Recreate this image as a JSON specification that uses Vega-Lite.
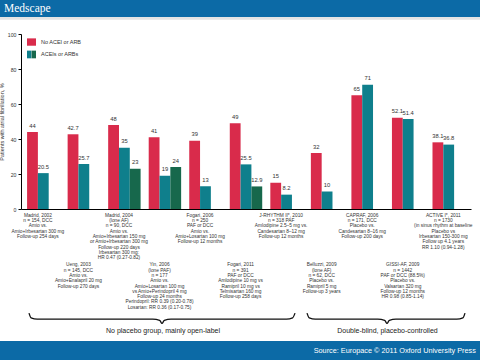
{
  "$schema": "https://vega.github.io/schema/vega-lite/v6.json",
  "width": 450,
  "height": 175,
  "autosize": "none",
  "padding": {"left": 21, "top": 34, "right": 9, "bottom": 151},
  "background": "white",
  "config": {"view": {"stroke": null}, "font": "Liberation Sans"},
  "datasets": {
    "bars": [
      {"study": "Madrid 2002", "series": "No ACEI or ARB", "value": 44},
      {"study": "Madrid 2002", "series": "ACEI/ARB arm 1", "value": 20.5},
      {"study": "Ueng 2003", "series": "No ACEI or ARB", "value": 42.7},
      {"study": "Ueng 2003", "series": "ACEI/ARB arm 1", "value": 25.7},
      {"study": "Madrid 2004", "series": "No ACEI or ARB", "value": 48},
      {"study": "Madrid 2004", "series": "ACEI/ARB arm 1", "value": 35},
      {"study": "Madrid 2004", "series": "ACEI/ARB arm 2", "value": 23},
      {"study": "Yin 2006", "series": "No ACEI or ARB", "value": 41},
      {"study": "Yin 2006", "series": "ACEI/ARB arm 1", "value": 19},
      {"study": "Yin 2006", "series": "ACEI/ARB arm 2", "value": 24},
      {"study": "Fogari 2006", "series": "No ACEI or ARB", "value": 39},
      {"study": "Fogari 2006", "series": "ACEI/ARB arm 1", "value": 13},
      {"study": "Fogari 2011", "series": "No ACEI or ARB", "value": 49},
      {"study": "Fogari 2011", "series": "ACEI/ARB arm 1", "value": 25.5},
      {"study": "Fogari 2011", "series": "ACEI/ARB arm 2", "value": 12.9},
      {"study": "J-RHYTHM II 2010", "series": "No ACEI or ARB", "value": 15},
      {"study": "J-RHYTHM II 2010", "series": "ACEI/ARB arm 1", "value": 8.2},
      {"study": "Belluzzi 2009", "series": "No ACEI or ARB", "value": 32},
      {"study": "Belluzzi 2009", "series": "ACEI/ARB arm 1", "value": 10},
      {"study": "CAPRAF 2006", "series": "No ACEI or ARB", "value": 65},
      {"study": "CAPRAF 2006", "series": "ACEI/ARB arm 1", "value": 71},
      {"study": "GISSI-AF 2009", "series": "No ACEI or ARB", "value": 52.1},
      {"study": "GISSI-AF 2009", "series": "ACEI/ARB arm 1", "value": 51.4},
      {"study": "ACTIVE I 2011", "series": "No ACEI or ARB", "value": 38.1},
      {"study": "ACTIVE I 2011", "series": "ACEI/ARB arm 1", "value": 36.8}
    ],
    "notes": [
      {"study": "Madrid 2002", "row": "upper", "lines": ["Madrid, 2002", "n = 154, DCC", "Amio vs.", "Amio+Irbesartan 300 mg", "Follow-up 254 days"]},
      {"study": "Madrid 2004", "row": "upper", "lines": ["Madrid, 2004", "(lone AF)", "n = 90, DCC", "Amio vs.", "Amio+Irbesartan 150 mg", "or Amio+Irbesartan 300 mg", "Follow-up 220 days", "Irbesartan 300 mg:", "HR 0.47 (0.27-0.82)"]},
      {"study": "Fogari 2006", "row": "upper", "lines": ["Fogari, 2006", "n = 250", "PAF or DCC", "Amio vs.", "Amio+Losartan 100 mg", "Follow-up 12 months"]},
      {"study": "J-RHYTHM II 2010", "row": "upper", "lines": ["J-RHYTHM II*, 2010", "n = 318 PAF", "Amlodipine 2.5–5 mg vs.", "Candesartan 8–12 mg", "Follow-up 12 months"]},
      {"study": "CAPRAF 2006", "row": "upper", "lines": ["CAPRAF, 2006", "n = 171, DCC", "Placebo vs.", "Candesartan 8–16 mg", "Follow-up 200 days"]},
      {"study": "ACTIVE I 2011", "row": "upper", "lines": ["ACTIVE I*, 2011", "n = 1730", "(in sinus rhythm at baseline", "Placebo vs", "Irbesartan 150-300 mg", "Follow up 4.1 years", "RR 1.10 (0.94-1.28)"]},
      {"study": "Ueng 2003", "row": "lower", "lines": ["Ueng, 2003", "n = 145, DCC", "Amio vs.", "Amio+Enalapril 20 mg", "Follow-up 270 days"]},
      {"study": "Yin 2006", "row": "lower", "lines": ["Yin, 2006", "(lone PAF)", "n = 177", "Amio vs.", "Amio+Losartan 100 mg", "vs Amio+Perindopril 4 mg", "Follow-up 24 months", "Perindopril: RR 0.39 (0.20-0.78)", "Losartan: RR 0.36 (0.17-0.75)"]},
      {"study": "Fogari 2011", "row": "lower", "lines": ["Fogari, 2011", "n = 391", "PAF or DCC", "Amlodipine 10 mg vs", "Ramipril 10 mg vs", "Telmisartan 160 mg", "Follow-up 258 days"]},
      {"study": "Belluzzi 2009", "row": "lower", "lines": ["Belluzzi, 2009", "(lone AF)", "n = 62, DCC", "Placebo vs.", "Ramipril 5 mg", "Follow-up 3 years"]},
      {"study": "GISSI-AF 2009", "row": "lower", "lines": ["GISSI-AF, 2009", "n = 1442", "PAF or DCC (88.5%)", "Placebo vs.", "Valsartan 320 mg", "Follow-up 12 months", "HR 0.98 (0.85-1.14)"]}
    ],
    "braces": [
      {"brace": "a", "bx": 0.197, "by": -59.5},
      {"brace": "a", "bx": 0.25, "by": -62.2},
      {"brace": "a", "bx": 0.4, "by": -62.9},
      {"brace": "a", "bx": 3.25, "by": -62.9},
      {"brace": "a", "bx": 3.42, "by": -63.6},
      {"brace": "a", "bx": 3.478, "by": -65.4},
      {"brace": "a", "bx": 3.536, "by": -63.6},
      {"brace": "a", "bx": 3.7, "by": -62.9},
      {"brace": "a", "bx": 6.55, "by": -62.9},
      {"brace": "a", "bx": 6.7, "by": -62.2},
      {"brace": "a", "bx": 6.759, "by": -59.5},
      {"brace": "b", "bx": 7.055, "by": -59.5},
      {"brace": "b", "bx": 7.11, "by": -62.2},
      {"brace": "b", "bx": 7.26, "by": -62.9},
      {"brace": "b", "bx": 8.8, "by": -62.9},
      {"brace": "b", "bx": 8.97, "by": -63.6},
      {"brace": "b", "bx": 9.028, "by": -65.4},
      {"brace": "b", "bx": 9.086, "by": -63.6},
      {"brace": "b", "bx": 9.25, "by": -62.9},
      {"brace": "b", "bx": 10.75, "by": -62.9},
      {"brace": "b", "bx": 10.9, "by": -62.2},
      {"brace": "b", "bx": 10.952, "by": -59.5}
    ]
  },
  "layer": [
    {
      "data": {"name": "bars"},
      "layer": [
        {
          "mark": {"type": "bar"},
          "encoding": {
            "x": {"field": "study", "type": "nominal", "sort": null,
              "scale": {"domain": ["Madrid 2002", "Ueng 2003", "Madrid 2004", "Yin 2006", "Fogari 2006", "Fogari 2011", "J-RHYTHM II 2010", "Belluzzi 2009", "CAPRAF 2006", "GISSI-AF 2009", "ACTIVE I 2011"], "paddingInner": 0.2, "paddingOuter": 0.15},
              "axis": {"title": null, "labels": false, "ticks": false, "grid": false, "domainColor": "#000000", "domainWidth": 1}},
            "xOffset": {"field": "series", "type": "nominal", "scale": {"domain": ["No ACEI or ARB", "ACEI/ARB arm 1", "ACEI/ARB arm 2"], "paddingInner": 0, "paddingOuter": 0}},
            "y": {"field": "value", "type": "quantitative", "scale": {"domain": [0, 100], "nice": false},
              "axis": {"title": "Patients with atrial fibrillation, %", "tickCount": 5, "labelOverlap": false, "labelFlush": false, "labelBound": false, "tickSize": 3, "tickColor": "#000000", "domainColor": "#000000", "labelFontSize": 5.2, "labelColor": "#333333", "labelPadding": 2, "grid": false, "titleFontSize": 5.5, "titleFontWeight": "normal", "titleColor": "#333333", "titlePadding": 3}},
            "color": {"field": "series", "type": "nominal", "legend": null,
              "scale": {"domain": ["No ACEI or ARB", "ACEI/ARB arm 1", "ACEI/ARB arm 2"], "range": ["#d92b4b", "#0f7f8c", "#17684c"]}}
          }
        },
        {
          "mark": {"type": "text", "baseline": "bottom", "dy": -3.5, "fontSize": 5.8, "color": "#333333"},
          "encoding": {
            "x": {"field": "study", "type": "nominal", "sort": null},
            "xOffset": {"field": "series", "type": "nominal"},
            "y": {"field": "value", "type": "quantitative"},
            "text": {"field": "value", "type": "quantitative", "format": ".1~f"}
          }
        },
        {
          "data": {"name": "notes"},
          "transform": [{"filter": "datum.row === 'upper'"}],
          "mark": {"type": "text", "baseline": "top", "align": "center", "dx": -5.4, "fontSize": 4.8, "lineHeight": 5.3, "color": "#333333", "font": "Liberation Sans Narrow, Liberation Sans, sans-serif"},
          "encoding": {
            "x": {"field": "study", "type": "nominal", "sort": null},
            "y": {"datum": -2.2, "type": "quantitative"},
            "text": {"field": "lines"}
          }
        },
        {
          "data": {"name": "notes"},
          "transform": [{"filter": "datum.row === 'lower'"}],
          "mark": {"type": "text", "baseline": "top", "align": "center", "dx": -5.4, "fontSize": 4.8, "lineHeight": 5.3, "color": "#333333", "font": "Liberation Sans Narrow, Liberation Sans, sans-serif"},
          "encoding": {
            "x": {"field": "study", "type": "nominal", "sort": null},
            "y": {"datum": -30.5, "type": "quantitative"},
            "text": {"field": "lines"}
          }
        }
      ]
    },
    {
      "data": {"values": [{}]},
      "layer": [
        {
          "mark": {"type": "rect", "color": "#0c6aa6"},
          "encoding": {
            "x": {"datum": -0.6, "type": "quantitative", "scale": {"domain": [0, 11.1], "nice": false, "zero": false}, "axis": null},
            "x2": {"datum": 11.4},
            "y": {"datum": 119.5, "type": "quantitative", "scale": {"domain": [0, 100], "nice": false, "zero": false}, "axis": null},
            "y2": {"datum": 109.7}
          }
        },
        {
          "mark": {"type": "rect", "color": "#e4e4e4"},
          "encoding": {
            "x": {"datum": -0.6, "type": "quantitative"},
            "x2": {"datum": 11.4},
            "y": {"datum": 109.7, "type": "quantitative"},
            "y2": {"datum": 108.2}
          }
        },
        {
          "mark": {"type": "rect", "color": "#0c6aa6"},
          "encoding": {
            "x": {"datum": -0.6, "type": "quantitative"},
            "x2": {"datum": 11.4},
            "y": {"datum": -75.4, "type": "quantitative"},
            "y2": {"datum": -87}
          }
        },
        {
          "mark": {"type": "text", "align": "left", "baseline": "middle", "font": "Liberation Serif", "fontSize": 11.5, "color": "white"},
          "encoding": {
            "x": {"datum": -0.42, "type": "quantitative"},
            "y": {"datum": 114.2, "type": "quantitative"},
            "text": {"value": "Medscape"}
          }
        },
        {
          "mark": {"type": "text", "align": "right", "baseline": "middle", "fontSize": 7.3, "color": "white"},
          "encoding": {
            "x": {"datum": 11.22, "type": "quantitative"},
            "y": {"datum": -80.9, "type": "quantitative"},
            "text": {"value": "Source: Europace © 2011 Oxford University Press"}
          }
        },
        {
          "mark": {"type": "rect", "color": "#d92b4b"},
          "encoding": {
            "x": {"datum": 0.148, "type": "quantitative"},
            "x2": {"datum": 0.37},
            "y": {"datum": 97.5, "type": "quantitative"},
            "y2": {"datum": 93.3}
          }
        },
        {
          "mark": {"type": "rect", "color": "#0f7f8c"},
          "encoding": {
            "x": {"datum": 0.148, "type": "quantitative"},
            "x2": {"datum": 0.256},
            "y": {"datum": 90.5, "type": "quantitative"},
            "y2": {"datum": 86.1}
          }
        },
        {
          "mark": {"type": "rect", "color": "#17684c"},
          "encoding": {
            "x": {"datum": 0.262, "type": "quantitative"},
            "x2": {"datum": 0.37},
            "y": {"datum": 90.5, "type": "quantitative"},
            "y2": {"datum": 86.1}
          }
        },
        {
          "mark": {"type": "text", "align": "left", "baseline": "middle", "fontSize": 5.5, "color": "#333333"},
          "encoding": {
            "x": {"datum": 0.493, "type": "quantitative"},
            "y": {"datum": 95.3, "type": "quantitative"},
            "text": {"value": "No ACEI or ARB"}
          }
        },
        {
          "mark": {"type": "text", "align": "left", "baseline": "middle", "fontSize": 5.5, "color": "#333333"},
          "encoding": {
            "x": {"datum": 0.493, "type": "quantitative"},
            "y": {"datum": 88.4, "type": "quantitative"},
            "text": {"value": "ACEIs or ARBs"}
          }
        },
        {
          "mark": {"type": "text", "align": "center", "baseline": "middle", "fontSize": 7, "color": "#222222"},
          "encoding": {
            "x": {"datum": 3.503, "type": "quantitative"},
            "y": {"datum": -69.7, "type": "quantitative"},
            "text": {"value": "No placebo group, mainly open-label"}
          }
        },
        {
          "mark": {"type": "text", "align": "center", "baseline": "middle", "fontSize": 7, "color": "#222222"},
          "encoding": {
            "x": {"datum": 9.04, "type": "quantitative"},
            "y": {"datum": -69.7, "type": "quantitative"},
            "text": {"value": "Double-blind, placebo-controlled"}
          }
        },
        {
          "data": {"name": "braces"},
          "mark": {"type": "line", "interpolate": "monotone", "color": "#111111", "strokeWidth": 1.3},
          "encoding": {
            "x": {"field": "bx", "type": "quantitative"},
            "y": {"field": "by", "type": "quantitative"},
            "detail": {"field": "brace", "type": "nominal"}
          }
        }
      ]
    }
  ],
  "resolve": {"scale": {"x": "independent", "y": "independent", "color": "independent"}, "axis": {"x": "independent", "y": "independent"}}
}
